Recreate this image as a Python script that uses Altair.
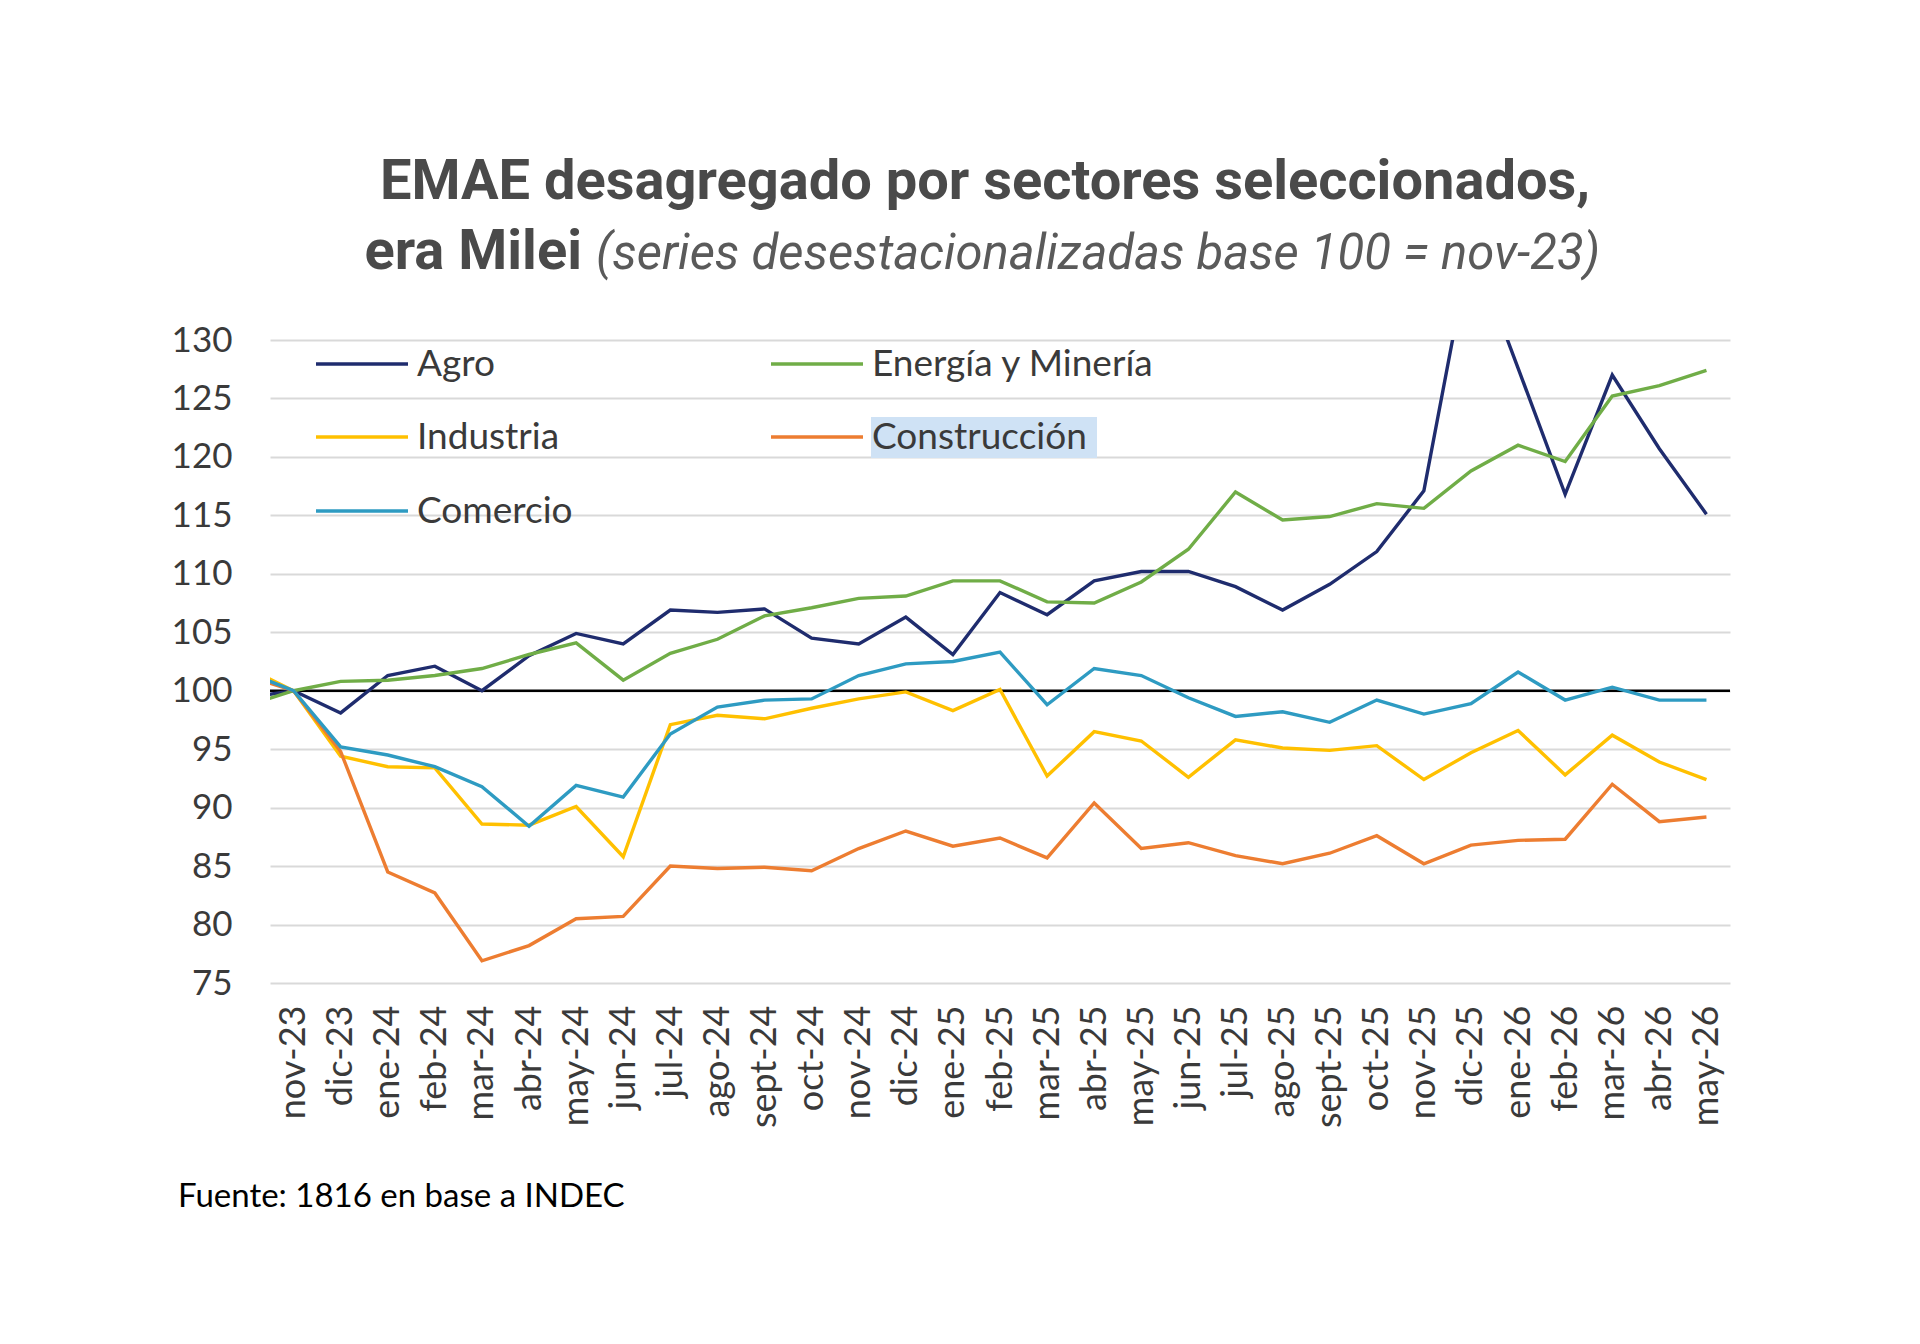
import json
import altair as alt
import pandas as pd

months = ["nov-23", "dic-23", "ene-24", "feb-24", "mar-24", "abr-24", "may-24", "jun-24",
          "jul-24", "ago-24", "sept-24", "oct-24", "nov-24", "dic-24", "ene-25", "feb-25",
          "mar-25", "abr-25", "may-25", "jun-25", "jul-25", "ago-25", "sept-25", "oct-25",
          "nov-25", "dic-25", "ene-26", "feb-26", "mar-26", "abr-26", "may-26"]

series_names = ["Agro", "Energía y Minería", "Industria", "Construcción", "Comercio"]
series_colors = ["#1F2C6E", "#70AD47", "#FFC000", "#ED7D31", "#2E9BC2"]

# previous month (oct-23), only partially visible at the left edge
prev_values = [99.4, 98.7, 102.0, 101.3, 101.6]

agro = [100, 98.1, 101.3, 102.1, 100.0, 103.0, 104.9, 104.0, 106.9, 106.7, 107.0, 104.5,
        104.0, 106.3, 103.1, 108.4, 106.5, 109.4, 110.2, 110.2, 108.9, 106.9, 109.1, 111.9,
        117.1, 138.3, 127.6, 116.8, 127.0, 120.7, 115.1]
energia = [100, 100.8, 100.9, 101.3, 101.9, 103.1, 104.1, 100.9, 103.2, 104.4, 106.4, 107.1,
           107.9, 108.1, 109.4, 109.4, 107.6, 107.5, 109.3, 112.1, 117.0, 114.6, 114.9, 116.0,
           115.6, 118.8, 121.0, 119.6, 125.2, 126.1, 127.4]
industria = [100, 94.4, 93.5, 93.4, 88.6, 88.5, 90.1, 85.8, 97.1, 97.9, 97.6, 98.5,
             99.3, 99.9, 98.3, 100.1, 92.7, 96.5, 95.7, 92.6, 95.8, 95.1, 94.9, 95.3,
             92.4, 94.7, 96.6, 92.8, 96.2, 93.9, 92.4]
construccion = [100, 94.8, 84.5, 82.7, 76.9, 78.2, 80.5, 80.7, 85.0, 84.8, 84.9, 84.6,
                86.5, 88.0, 86.7, 87.4, 85.7, 90.4, 86.5, 87.0, 85.9, 85.2, 86.1, 87.6,
                85.2, 86.8, 87.2, 87.3, 92.0, 88.8, 89.2]
comercio = [100, 95.2, 94.5, 93.5, 91.8, 88.4, 91.9, 90.9, 96.3, 98.6, 99.2, 99.3,
            101.3, 102.3, 102.5, 103.3, 98.8, 101.9, 101.3, 99.4, 97.8, 98.2, 97.3, 99.2,
            98.0, 98.9, 101.6, 99.2, 100.3, 99.2, 99.2]

y_ticks = list(range(75, 131, 5))
title_line1 = "EMAE desagregado por sectores seleccionados,"
title_line2a = "era Milei"
title_line2b = "(series desestacionalizadas base 100 = nov-23)"
source_text = "Fuente: 1816 en base a INDEC"

all_series = [agro, energia, industria, construccion, comercio]
rows = []
for name, prev, vals in zip(series_names, prev_values, all_series):
    rows.append({"idx": -1, "serie": name, "value": prev})
    for i, v in enumerate(vals):
        rows.append({"idx": i, "serie": name, "value": v})
df = pd.DataFrame(rows)

W, H = 1460, 643
FONT = "Lato"
TXT = "#3A3A3A"

label_expr = json.dumps(months) + "[datum.value]"

x_enc = alt.X("idx:Q",
              scale=alt.Scale(domain=[-0.5, 30.5], nice=False, zero=False),
              axis=alt.Axis(values=list(range(len(months))), labelExpr=label_expr,
                            labelAngle=270, labelAlign="right", labelBaseline="middle",
                            grid=False, ticks=False, domain=False, labelFontSize=36,
                            labelFont=FONT, labelColor=TXT, labelPadding=22, title=None,
                            labelOverlap=False))
y_enc = alt.Y("value:Q",
              scale=alt.Scale(domain=[75, 130], nice=False, zero=False),
              axis=alt.Axis(values=y_ticks, grid=True, ticks=False, domain=False,
                            labelFontSize=35, labelFont=FONT, labelColor=TXT,
                            labelPadding=38, title=None, gridColor="#D9D9D9", gridWidth=2))

lines = alt.Chart(df).mark_line(strokeWidth=3.4, clip=True).encode(
    x=x_enc, y=y_enc,
    color=alt.Color("serie:N", scale=alt.Scale(domain=series_names, range=series_colors),
                    legend=None),
    detail="serie:N",
    order="idx:Q",
)

rule100 = alt.Chart(pd.DataFrame({"v": [100]})).mark_rule(color="black", strokeWidth=2.5).encode(
    y=alt.Y("v:Q", scale=alt.Scale(domain=[75, 130], nice=False, zero=False))
)

# legend (manual, two columns)
leg_x = [46, 501, 46, 501, 46]
leg_y = [24, 24, 97, 97, 171]
layers = [rule100, lines]

hl = alt.Chart(pd.DataFrame({"a": [0]})).mark_rect(color="#CFE2F5").encode(
    x=alt.value(leg_x[3] + 100), x2=alt.value(leg_x[3] + 326),
    y=alt.value(leg_y[3] - 20), y2=alt.value(leg_y[3] + 21))
layers.append(hl)

for name, col, lx, ly in zip(series_names, series_colors, leg_x, leg_y):
    layers.append(alt.Chart(pd.DataFrame({"s": [name]})).mark_rule(color=col, strokeWidth=3.4).encode(
        x=alt.value(lx), x2=alt.value(lx + 92), y=alt.value(ly)))
    layers.append(alt.Chart(pd.DataFrame({"s": [name]})).mark_text(
        align="left", baseline="middle", fontSize=37, font=FONT, color=TXT).encode(
        x=alt.value(lx + 101), y=alt.value(ly + 1), text="s:N"))

t1 = alt.Chart(pd.DataFrame({"t": [title_line1]})).mark_text(
    align="center", baseline="alphabetic", fontSize=56, font="Roboto", fontWeight="bold",
    color="#4A4A4A").encode(x=alt.value(715), y=alt.value(-141), text="t:N")
t2a = alt.Chart(pd.DataFrame({"t": [title_line2a]})).mark_text(
    align="right", baseline="alphabetic", fontSize=56, font="Roboto", fontWeight="bold",
    color="#4A4A4A").encode(x=alt.value(312), y=alt.value(-71), text="t:N")
t2b = alt.Chart(pd.DataFrame({"t": [title_line2b]})).mark_text(
    align="left", baseline="alphabetic", fontSize=49, font="Roboto", fontStyle="italic",
    color="#5A5A5A").encode(x=alt.value(326), y=alt.value(-71), text="t:N")
src = alt.Chart(pd.DataFrame({"t": [source_text]})).mark_text(
    align="left", baseline="middle", fontSize=33, font=FONT, color="black").encode(
    x=alt.value(-92), y=alt.value(857), text="t:N")
layers += [t1, t2a, t2b, src]

chart = alt.layer(*layers).properties(
    width=W, height=H,
    padding={"left": 270, "top": 340, "right": 190, "bottom": 361},
    autosize=alt.AutoSizeParams(type="none"),
    background="white",
).configure_view(stroke=None)

chart.save("out.html", embed_options={"renderer": "svg", "actions": False})
